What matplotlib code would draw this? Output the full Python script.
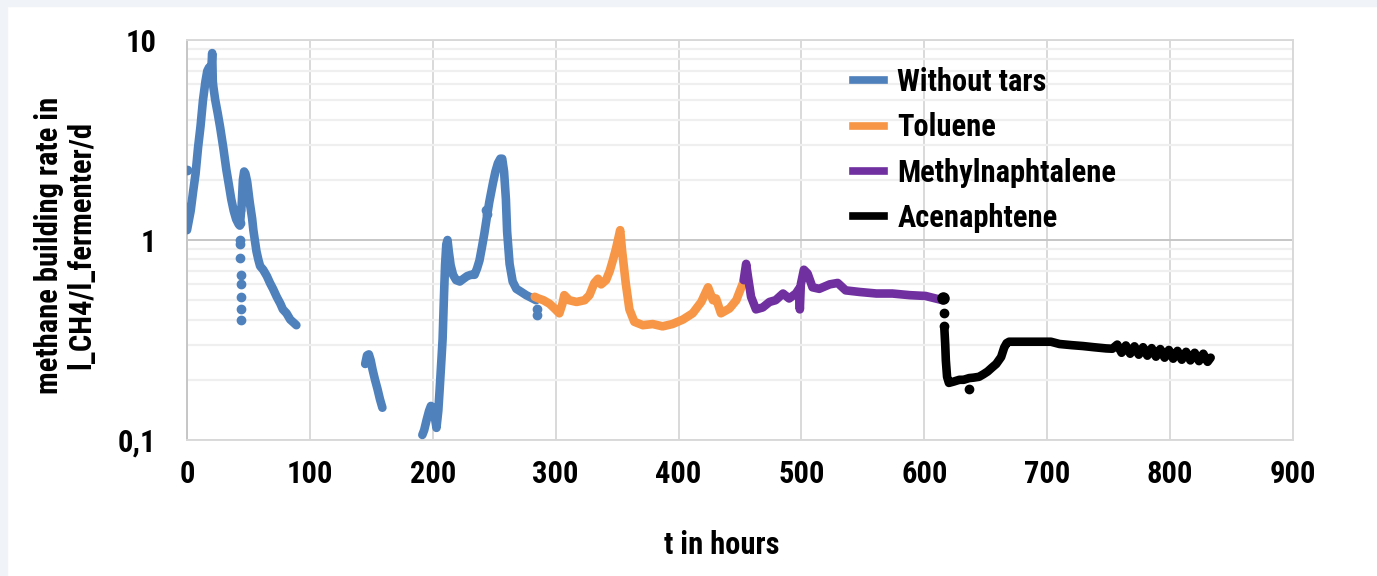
import numpy as np
import matplotlib
matplotlib.use("Agg")
import matplotlib.pyplot as plt
from matplotlib import font_manager
from matplotlib.ticker import LogLocator, FixedLocator, NullFormatter
from matplotlib.patches import Rectangle
from matplotlib.lines import Line2D

nan = float("nan")

# ---------------- data ----------------
blue_t = [0, 3, 5, 7, 9, 11, 13, 15, 16.5, 18, 19, 20, 20.5, 21, 21.5, 23, 25, 27, 29.5, 32, 34, 36, 38, 40, 42, 43,
          44.5, 45.5, 46.5, 47.5, 49, 51, 53, 54, 56.5, 58, 59.5, 62, 65, 67.5, 70, 73, 76, 78, 81, 84, 87, 89,
          nan,
          145, 146.5, 148, 149.5, 151, 153, 155, 157, 159,
          nan,
          191.5, 193, 195, 197, 198.5, 200, 201.5, 203, 204.5, 205.5, 207, 208, 209, 210, 211, 212, 213, 214.5, 216.5,
          219, 222, 225, 228, 231, 234, 236, 238, 240, 242, 244, 246, 249, 251, 253, 255, 256.5, 258, 259.5, 260.5,
          262.5, 265, 268, 272, 276, 280, 284]
blue_v = [1.12, 1.4, 1.75, 2.15, 2.9, 3.7, 5.0, 6.2, 7.0, 7.3, 7.0, 7.6, 8.6, 6.2, 5.8, 5.0, 4.3, 3.65, 2.9, 2.25, 1.9, 1.6, 1.4, 1.27, 1.2, 1.18,
          1.5, 2.0, 2.2, 2.15, 1.95, 1.55, 1.28, 1.12, 0.88, 0.8, 0.74, 0.71, 0.66, 0.61, 0.57, 0.52, 0.48, 0.45, 0.43, 0.40, 0.385, 0.375,
          nan,
          0.24, 0.265, 0.268, 0.25, 0.225, 0.2, 0.18, 0.16, 0.145,
          nan,
          0.106, 0.112, 0.126, 0.14, 0.148, 0.145, 0.132, 0.115, 0.14, 0.175, 0.25, 0.32, 0.5, 0.75, 0.95, 1.0, 0.88, 0.75, 0.67,
          0.63, 0.62, 0.64, 0.66, 0.67, 0.67, 0.72, 0.79, 0.92, 1.08, 1.3, 1.55, 1.93, 2.2, 2.42, 2.55, 2.55, 2.2, 1.6, 1.1,
          0.76, 0.62, 0.57, 0.55, 0.53, 0.515, 0.5]
blue_dot_t = [0, 0, 43, 43.2, 43.3, 43.4, 43.5, 43.6, 43.6, 43.7, 43.7, 43.8, 243, 244, 284.5, 285]
blue_dot_v = [1.47, 2.24, 1.41, 1.21, 1.0, 0.96, 0.81, 0.67, 0.6, 0.52, 0.45, 0.40, 1.42, 1.35, 0.45, 0.42]

orange_t = [283, 286, 290, 295, 299, 303, 305.5, 307, 311, 317, 323.5, 327.5, 331.5, 334.5, 337, 341, 344, 346.5,
            349, 350.7, 352.5, 354, 357, 360, 364, 371, 379, 387, 395, 403.5, 411.5, 418.5, 424, 428, 430.5, 434.5,
            441.5, 447, 452, 454]
orange_v = [0.52, 0.51, 0.5, 0.48, 0.455, 0.43, 0.48, 0.53, 0.5, 0.49, 0.5, 0.53, 0.61, 0.64, 0.6, 0.63, 0.7, 0.79,
            0.9, 1.0, 1.12, 0.89, 0.61, 0.45, 0.39, 0.375, 0.38, 0.37, 0.38, 0.40, 0.43, 0.49, 0.58, 0.5, 0.51, 0.43,
            0.455, 0.5, 0.6, 0.64]

purple_t = [453, 455, 456.5, 459, 463, 468.5, 474, 479, 485, 490, 495.5, 498, 498.7, 499.5, 502, 505, 509, 514.5,
            523, 529.5, 536, 547, 561, 574, 588, 601, 612, 615]
purple_v = [0.63, 0.76, 0.655, 0.52, 0.45, 0.46, 0.49, 0.5, 0.54, 0.51, 0.54, 0.57, 0.45, 0.6, 0.71, 0.68, 0.58, 0.57,
            0.6, 0.61, 0.56, 0.55, 0.54, 0.54, 0.53, 0.525, 0.505, 0.50]

black_t = [616.3, 617, 617.5, 618.5, 620, 624, 628.5, 632, 636.5, 640, 644.5, 648, 651.5, 655, 658.5, 662.5, 665, 667,
           669, 680, 688, 695, 703, 710, 720, 729, 738, 748, 753,
           757, 760.5, 764, 767.5, 771, 774.5, 778, 781.5, 785, 788.5, 792, 795.5, 799, 802.5, 806, 809.5, 813,
           816.5, 820, 823.5, 827, 830.5, 833]
black_v = [0.36, 0.3, 0.25, 0.207, 0.193, 0.196, 0.2, 0.2, 0.204, 0.205, 0.207, 0.213, 0.22, 0.23, 0.24, 0.26, 0.29, 0.305,
           0.31, 0.31, 0.31, 0.31, 0.31, 0.302, 0.298, 0.295, 0.291, 0.287, 0.286,
           0.300, 0.273, 0.297, 0.270, 0.294, 0.267, 0.291, 0.264, 0.288, 0.261, 0.285, 0.258, 0.282, 0.255, 0.279,
           0.252, 0.276, 0.250, 0.273, 0.248, 0.270, 0.246, 0.258]
black_dot_t = [615.5, 615.7, 616, 636.5]
black_dot_v = [0.51, 0.43, 0.37, 0.18]

series_names = ["Without tars", "Toluene", "Methylnaphtalene", "Acenaphtene"]
series_colors = ["#4F81BD", "#F79646", "#7030A0", "#000000"]

x_ticks = [0, 100, 200, 300, 400, 500, 600, 700, 800, 900]
y_ticks = [0.1, 1, 10]
y_tick_labels = ["0,1", "1", "10"]

# ---------------- fonts ----------------
avail = {f.name for f in font_manager.fontManager.ttflist}
fam, FS = "Liberation Sans", 19.5
for cand in ["Liberation Sans Narrow", "Arial Narrow", "Roboto Condensed", "Open Sans Condensed"]:
    if cand in avail:
        fam, FS = cand, 22
        break
plt.rcParams["font.family"] = [fam, "DejaVu Sans"]
plt.rcParams["font.weight"] = "bold"

W, H = 1377, 576
fig = plt.figure(figsize=(W / 100, H / 100), dpi=100)
fig.patch.set_facecolor("white")
fig.patches.append(Rectangle((0, 1 - 6 / H), 1, 6 / H, transform=fig.transFigure, color="#f0f4f9", zorder=-10))
fig.patches.append(Rectangle((0, 0), 7 / W, 1, transform=fig.transFigure, color="#f0f4f9", zorder=-10))

L, R, T, B = 187, 1293, 40, 440
ax = fig.add_axes([L / W, 1 - B / H, (R - L) / W, (B - T) / H])
ax.set_yscale("log")
ax.set_xlim(0, 900)
ax.set_ylim(0.1, 10)
ax.set_axisbelow(True)

ax.yaxis.set_major_locator(FixedLocator(y_ticks))
ax.set_yticklabels(y_tick_labels)
ax.yaxis.set_minor_locator(LogLocator(base=10, subs=range(2, 10)))
ax.yaxis.set_minor_formatter(NullFormatter())
ax.set_xticks(x_ticks)
ax.set_xticklabels([str(v) for v in x_ticks])

ax.grid(True, which="minor", axis="y", color="#efefef", lw=1.6)
ax.grid(True, which="major", axis="y", color="#c6c6c6", lw=1.4)
ax.grid(True, which="major", axis="x", color="#d9d9d9", lw=1.4)
ax.tick_params(axis="both", which="both", length=0)
ax.tick_params(axis="x", pad=14, labelsize=FS)
ax.tick_params(axis="y", pad=22, labelsize=FS)
for lab in ax.get_xticklabels() + ax.get_yticklabels():
    lab.set_fontweight("bold")

for s in ["top", "right"]:
    ax.spines[s].set_color("#d9d9d9")
    ax.spines[s].set_linewidth(1.4)
ax.spines["left"].set_color("#c6c6c6")
ax.spines["left"].set_linewidth(1.4)
ax.spines["bottom"].set_color("#d9d9d9")
ax.spines["bottom"].set_linewidth(1.4)

lw = 6.2
kw = dict(lw=lw, solid_capstyle="round", solid_joinstyle="round", zorder=3)
ax.plot(blue_t, blue_v, color=series_colors[0], **kw)
ax.plot(blue_dot_t, blue_dot_v, ls="none", marker="o", ms=6, color=series_colors[0], zorder=3)
ax.plot(orange_t, orange_v, color=series_colors[1], **kw)
ax.plot(purple_t, purple_v, color=series_colors[2], **kw)
ax.plot(black_t, black_v, color=series_colors[3], **kw)
ax.plot(black_dot_t, black_dot_v, ls="none", marker="o", ms=6, color=series_colors[3], zorder=3)
ax.plot([black_dot_t[0]], [black_dot_v[0]], ls="none", marker="o", ms=8, color=series_colors[3], zorder=3)

handles = [Line2D([0], [0], color=c, lw=5.5) for c in series_colors]
leg = fig.legend(handles, series_names, loc="upper left", bbox_to_anchor=(853 / W, 1 - 67 / H),
                 frameon=False, fontsize=FS, handlelength=1.0, handletextpad=0.45,
                 labelspacing=0.5, borderpad=0, borderaxespad=0)
for t in leg.get_texts():
    t.set_fontweight("bold")

fig.text(65 / W, 1 - 245 / H, "methane building rate in\nl_CH4/l_fermenter/d", rotation=90,
         ha="center", va="center", multialignment="center", fontsize=FS, fontweight="bold", linespacing=1.1)
fig.text(722 / W, 1 - 545 / H, "t in hours", ha="center", va="center", fontsize=FS, fontweight="bold")

fig.savefig("out.png", dpi=100)
